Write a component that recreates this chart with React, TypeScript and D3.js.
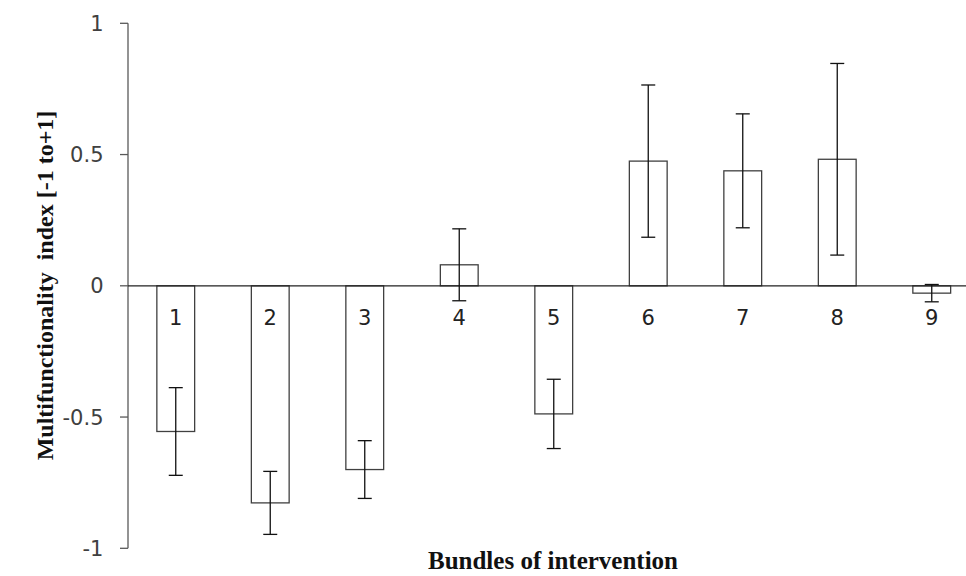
import React from "react";
import * as d3 from "d3";

const categories = ["1", "2", "3", "4", "5", "6", "7", "8", "9"];
const values = [-0.555, -0.827, -0.7, 0.08, -0.488, 0.475, 0.438, 0.482, -0.028];
const errors = [0.167, 0.12, 0.11, 0.137, 0.132, 0.29, 0.217, 0.365, 0.033];
const yTicks = [-1, -0.5, 0, 0.5, 1];
const yTitle = "Multifunctionality  index [-1 to+1]";
const xTitle = "Bundles of intervention";

const W = 966;
const H = 576;

export default function App() {
  const y = d3.scaleLinear().domain([-1, 1]).range([548.3, 23.3]);
  const x = d3
    .scaleBand<string>()
    .domain(categories)
    .range([128.5, 979])
    .paddingInner(0.6)
    .paddingOuter(0.3);
  const bw = x.bandwidth();
  const cap = 7;
  const axisX = 128;
  const fmt = (v: number) => (v === 0 ? "0" : String(v));
  const sans = "'DejaVu Sans', 'Open Sans', sans-serif";
  const serif = "'Liberation Serif', 'Times New Roman', serif";

  return (
    <svg
      width={W}
      height={H}
      style={{ position: "absolute", left: 0, top: 0, background: "#fff" }}
    >
      {/* y axis */}
      <line x1={axisX} x2={axisX} y1={y(1)} y2={y(-1)} stroke="#595959" strokeWidth={1.3} />
      {yTicks.map((t) => (
        <g key={t}>
          <line x1={axisX - 8} x2={axisX} y1={y(t)} y2={y(t)} stroke="#595959" strokeWidth={1.3} />
          <text
            x={103.5}
            y={y(t)}
            dy="0.36em"
            textAnchor="end"
            fontFamily={sans}
            fontSize={21}
            fill="#404040"
          >
            {fmt(t)}
          </text>
        </g>
      ))}

      {/* bars */}
      {categories.map((c, i) => {
        const v = values[i];
        const x0 = x(c)!;
        const top = y(Math.max(0, v));
        const bot = y(Math.min(0, v));
        return (
          <rect
            key={c}
            x={x0}
            y={top}
            width={bw}
            height={bot - top}
            fill="#fff"
            stroke="#404040"
            strokeWidth={1.3}
          />
        );
      })}

      {/* zero line */}
      <line x1={axisX} x2={W} y1={y(0)} y2={y(0)} stroke="#222" strokeWidth={1.3} />

      {/* error bars */}
      {categories.map((c, i) => {
        const cx = x(c)! + bw / 2;
        const hi = y(values[i] + errors[i]);
        const lo = y(values[i] - errors[i]);
        return (
          <g key={"e" + c} stroke="#111" strokeWidth={1.3}>
            <line x1={cx} x2={cx} y1={hi} y2={lo} />
            <line x1={cx - cap} x2={cx + cap} y1={hi} y2={hi} />
            <line x1={cx - cap} x2={cx + cap} y1={lo} y2={lo} />
          </g>
        );
      })}

      {/* category labels */}
      {categories.map((c) => (
        <text
          key={"l" + c}
          x={x(c)! + bw / 2}
          y={325}
          textAnchor="middle"
          fontFamily={sans}
          fontSize={21}
          fill="#222"
        >
          {c}
        </text>
      ))}

      {/* axis titles */}
      <text
        transform={`translate(53, 285.5) rotate(-90)`}
        textAnchor="middle"
        fontFamily={serif}
        fontWeight="bold"
        fontSize={24}
        fill="#111"
        style={{ whiteSpace: "pre" }}
      >
        {yTitle}
      </text>
      <text
        x={553}
        y={569}
        textAnchor="middle"
        fontFamily={serif}
        fontWeight="bold"
        fontSize={25}
        fill="#111"
      >
        {xTitle}
      </text>
    </svg>
  );
}
